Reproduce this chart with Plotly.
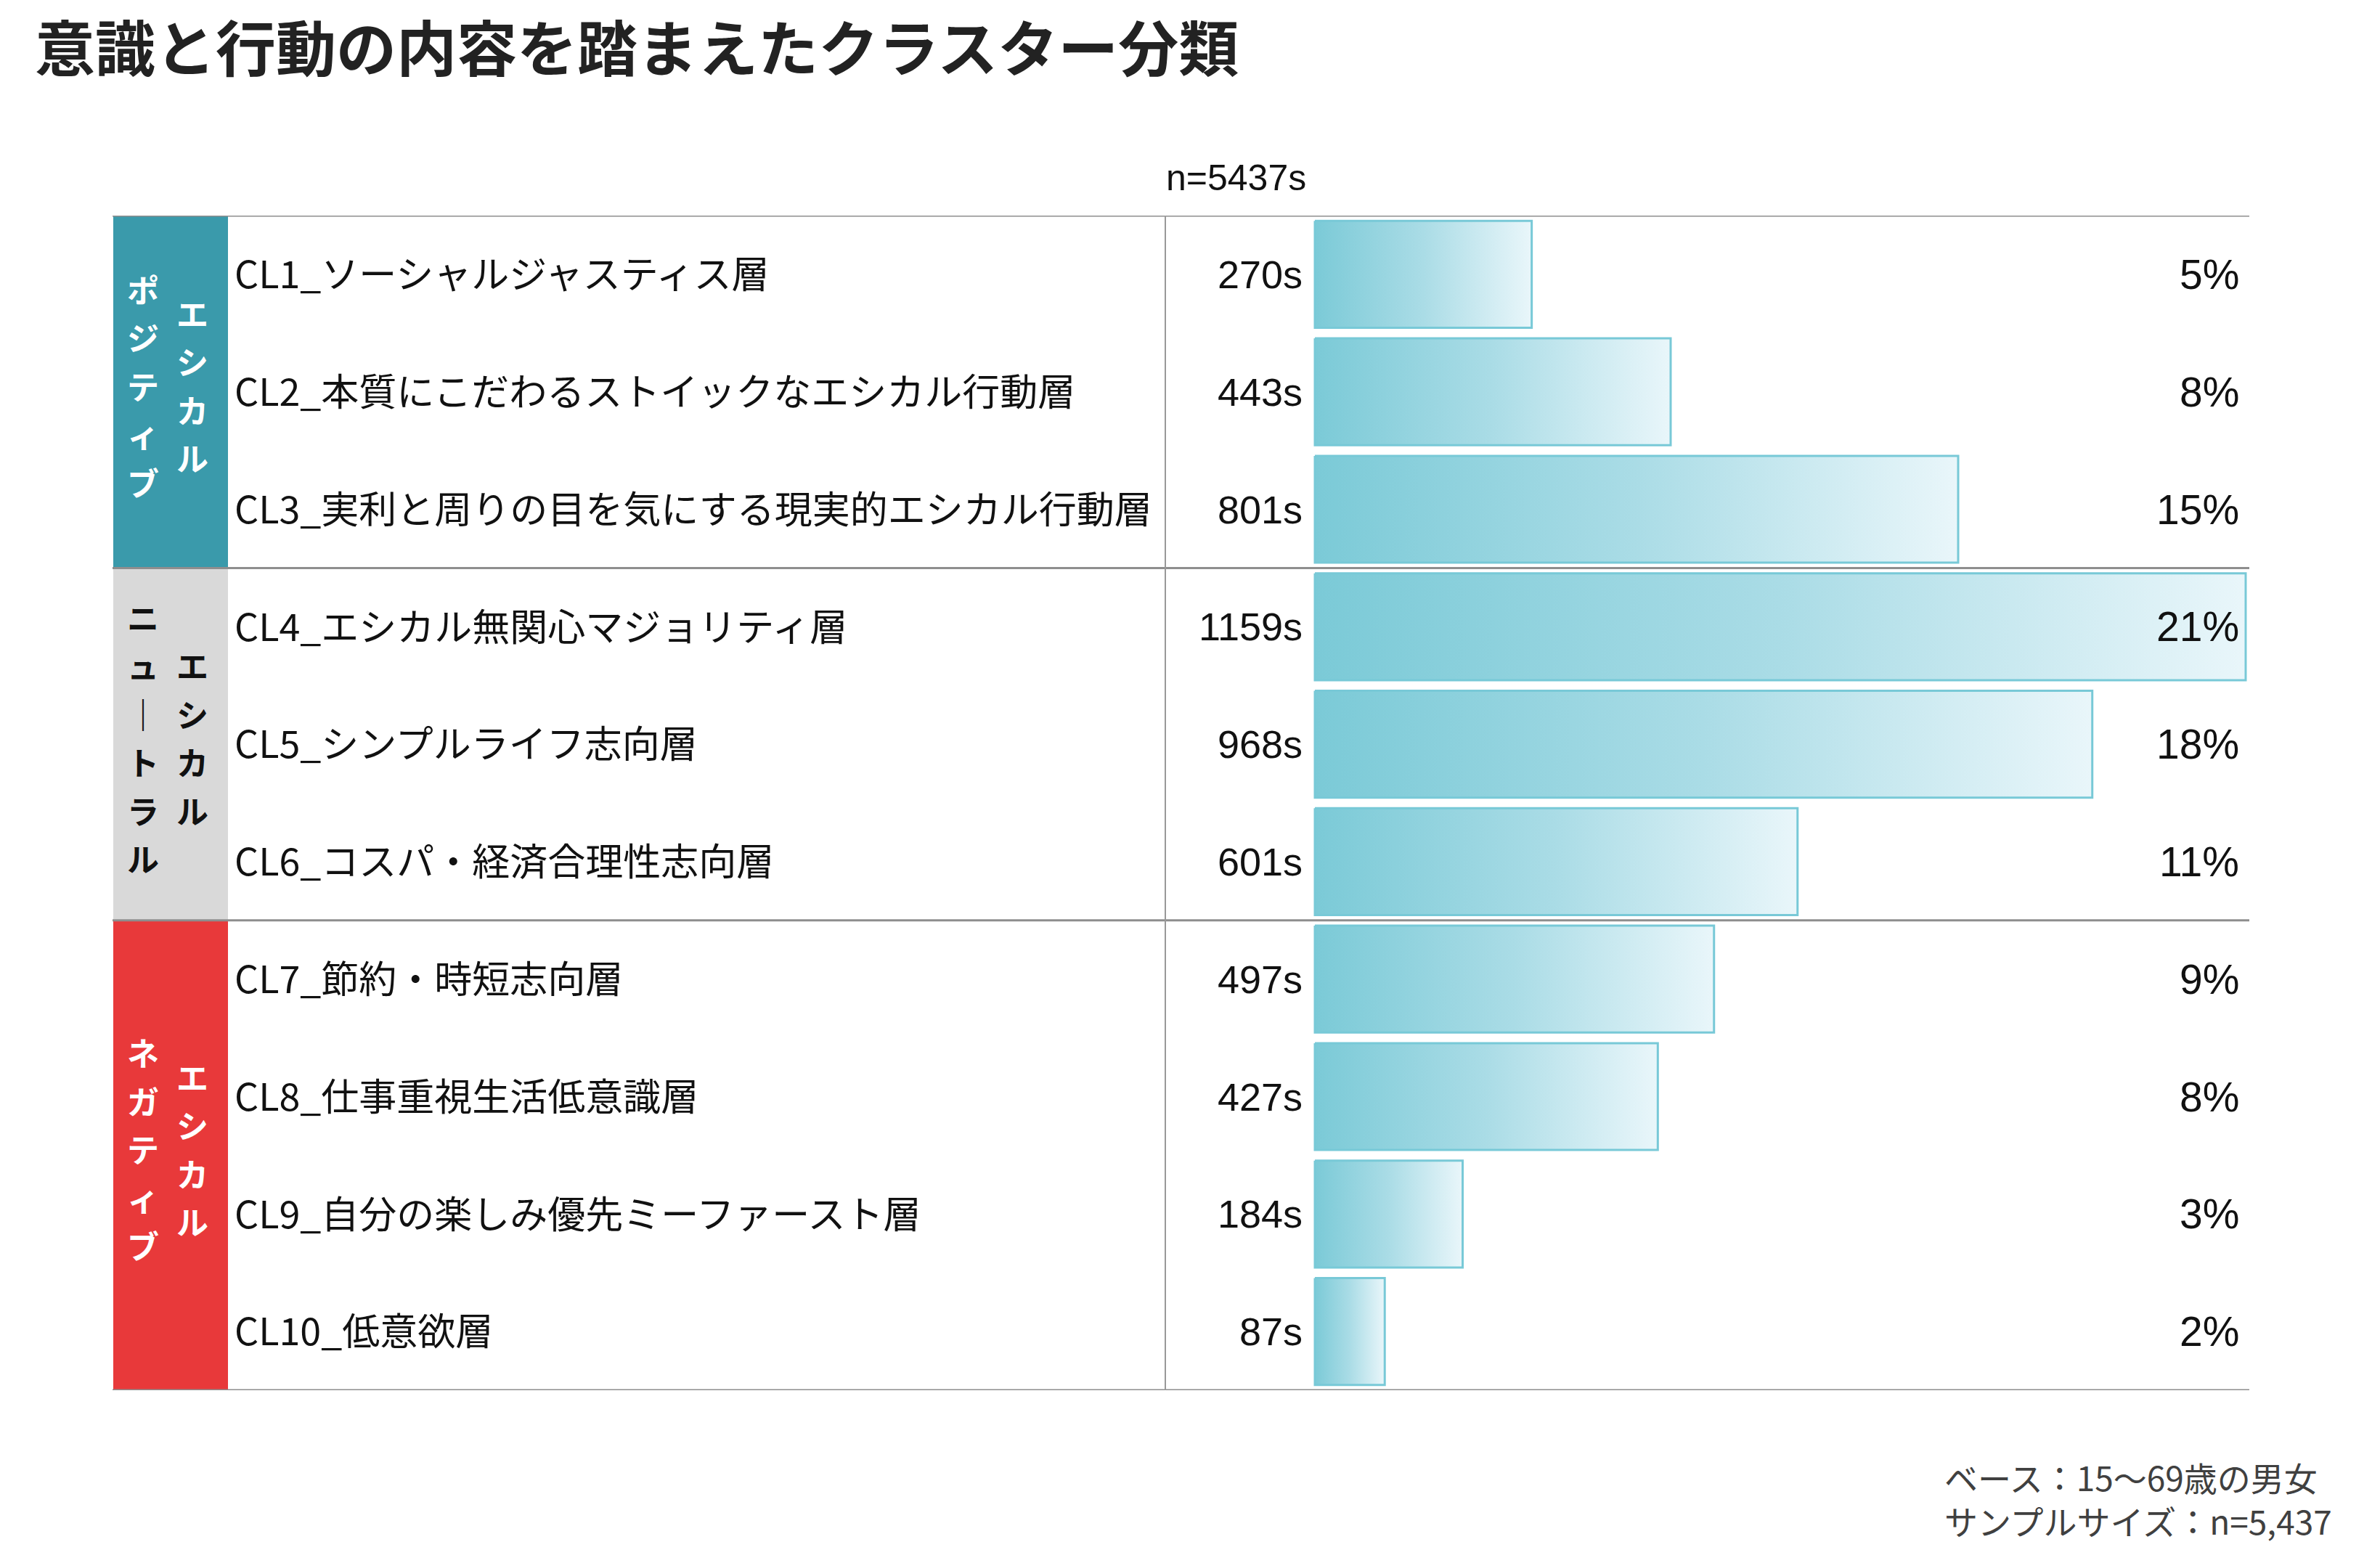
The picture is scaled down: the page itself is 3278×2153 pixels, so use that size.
import plotly.graph_objects as go

# ---------------- data ----------------
title_text = "意識と行動の内容を踏まえたクラスター分類"
cluster_labels = [
    "CL1_ソーシャルジャスティス層",
    "CL2_本質にこだわるストイックなエシカル行動層",
    "CL3_実利と周りの目を気にする現実的エシカル行動層",
    "CL4_エシカル無関心マジョリティ層",
    "CL5_シンプルライフ志向層",
    "CL6_コスパ・経済合理性志向層",
    "CL7_節約・時短志向層",
    "CL8_仕事重視生活低意識層",
    "CL9_自分の楽しみ優先ミーファースト層",
    "CL10_低意欲層",
]
counts = [270, 443, 801, 1159, 968, 601, 497, 427, 184, 87]
percents = [5, 8, 15, 21, 18, 11, 9, 8, 3, 2]
group_left = ["ポジティブ", "ニュートラル", "ネガティブ"]
group_right = ["エシカル", "エシカル", "エシカル"]
group_first_row = [0, 3, 6]
group_last_row = [2, 5, 9]
total_label = "n=5437s"
notes = ["ベース：15～69歳の男女", "サンプルサイズ：n=5,437"]

# ---------------- layout constants ----------------
W, H = 3278, 2153
TOP, BOTTOM = 297, 1915          # table top / bottom (px)
ROW = (BOTTOM - TOP) / len(counts)
BAR0 = 1811                       # px where value 0 lies
K = (3093 - BAR0) / max(counts)   # px per unit
XD0, XD1 = 1798, 3108             # x-axis domain (px)

group_fill = ["#3A9AAB", "#D9D9D9", "#E8393A"]
group_font = ["#FFFFFF", "#111111", "#FFFFFF"]
JP = "Noto Sans CJK JP"
LAT = "Liberation Sans, Arial"


def px(x):
    return x / W


def py(y):
    return 1 - y / H


fig = go.Figure()

# bars with horizontal gradient
h = 0.455
for i, v in enumerate(counts):
    fig.add_trace(go.Scatter(
        x=[0, v, v, 0, 0],
        y=[i - h, i - h, i + h, i + h, i - h],
        mode="lines",
        fill="toself",
        line=dict(color="#78C9D7", width=3),
        fillgradient=dict(type="horizontal",
                          colorscale=[[0, "#7BCAD7"], [0.5, "#AADCE6"], [1, "#E9F6FA"]]),
        hoverinfo="skip",
        showlegend=False,
    ))

shapes = []
# group colour bands
for g in range(3):
    shapes.append(dict(type="rect", xref="paper", yref="y",
                       x0=px(156), x1=px(314),
                       y0=group_first_row[g] - 0.5, y1=group_last_row[g] + 0.5,
                       fillcolor=group_fill[g], line=dict(width=0), layer="below"))
# horizontal separators
for yb in [-0.5] + [r + 0.5 for r in group_last_row]:
    shapes.append(dict(type="line", xref="paper", yref="y",
                       x0=px(155), x1=px(3098), y0=yb, y1=yb,
                       line=dict(color="#8E8E8E", width=3)))
# vertical separator
shapes.append(dict(type="line", xref="paper", yref="y",
                   x0=px(1605), x1=px(1605), y0=-0.5, y1=len(counts) - 0.5,
                   line=dict(color="#999999", width=2)))

ann = []
# title
ann.append(dict(text=title_text, x=px(46), y=py(62), xref="paper", yref="paper",
                xanchor="left", yanchor="middle", showarrow=False,
                font=dict(family=JP, size=83, color="#222222", weight=700)))
# total n
ann.append(dict(text=total_label, x=px(1604), y=py(245), xref="paper", yref="paper",
                xanchor="left", yanchor="middle", showarrow=False,
                font=dict(family=LAT, size=50, color="#111111")))
# rows
for i in range(len(counts)):
    ann.append(dict(text=cluster_labels[i], x=px(321), y=i - 0.02, xref="paper", yref="y",
                    xanchor="left", yanchor="middle", showarrow=False,
                    font=dict(family=JP, size=52, color="#111111")))
    ann.append(dict(text=f"{counts[i]}s", x=px(1796), y=i, xref="paper", yref="y",
                    xanchor="right", yanchor="middle", showarrow=False,
                    font=dict(family=LAT, size=54, color="#111111")))
    ann.append(dict(text=f"{percents[i]}%", x=px(3086), y=i, xref="paper", yref="y",
                    xanchor="right", yanchor="middle", showarrow=False,
                    font=dict(family=LAT, size=57, color="#111111")))
# vertical group labels
SP = 66.5
for g in range(3):
    top = TOP + group_first_row[g] * ROW
    bot = TOP + (group_last_row[g] + 1) * ROW
    cy = (top + bot) / 2 - 9
    for colx, word in ((197, group_left[g]), (265, group_right[g])):
        chars = list(word.replace("ー", "｜"))
        n = len(chars)
        for k, ch in enumerate(chars):
            ann.append(dict(text=ch, x=px(colx), y=py(cy + (k - (n - 1) / 2) * SP),
                            xref="paper", yref="paper", xanchor="center", yanchor="middle",
                            showarrow=False,
                            font=dict(family=JP, size=44, color=group_font[g], weight=700)))
# notes (two lines in one block)
ann.append(dict(text="<br>".join(notes), x=px(2676), y=py(2064), xref="paper", yref="paper",
                xanchor="left", yanchor="middle", align="left", showarrow=False,
                font=dict(family=JP, size=46, color="#404040")))

fig.update_layout(
    width=W, height=H,
    margin=dict(l=0, r=0, t=0, b=0),
    paper_bgcolor="white", plot_bgcolor="white",
    shapes=shapes, annotations=ann,
    xaxis=dict(domain=[px(XD0), px(XD1)],
               range=[(XD0 - BAR0) / K, (XD1 - BAR0) / K],
               visible=False, fixedrange=True),
    yaxis=dict(domain=[py(BOTTOM), py(TOP)], range=[len(counts) - 0.5, -0.5],
               visible=False, fixedrange=True),
    showlegend=False,
)

fig.write_html("out.html")
